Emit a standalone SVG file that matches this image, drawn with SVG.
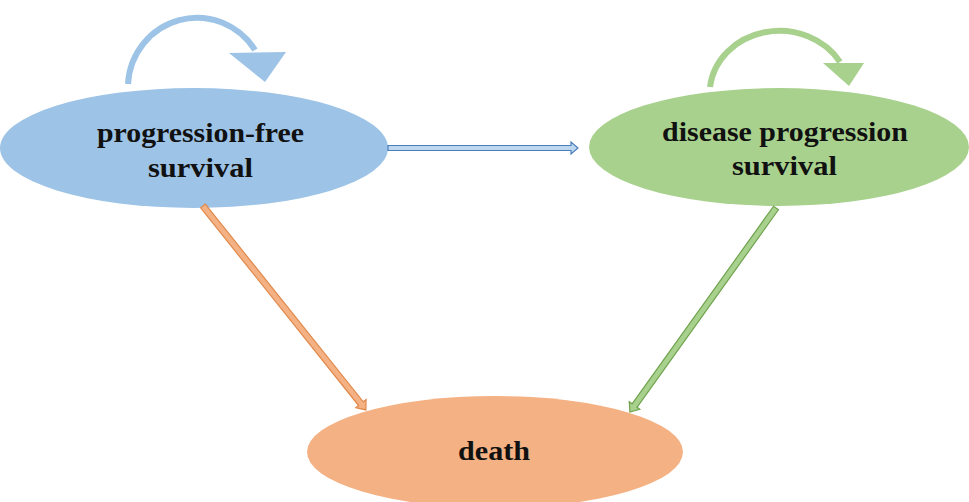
<svg xmlns="http://www.w3.org/2000/svg" width="969" height="502" viewBox="0 0 969 502">
<style>
.lbl{font-family:"Liberation Serif","Times New Roman",serif;font-weight:bold;font-size:28px;fill:#111;text-anchor:middle}
</style>
<rect width="969" height="502" fill="#fff"/>
<g id="node-pfs">
<ellipse cx="194" cy="148" rx="194" ry="60" fill="#9DC3E6"/>
<text class="lbl" x="200.5" y="142" textLength="207" lengthAdjust="spacingAndGlyphs">progression-free</text>
<text class="lbl" x="200.5" y="177" textLength="105" lengthAdjust="spacingAndGlyphs">survival</text>
</g>
<g id="node-dps">
<ellipse cx="779" cy="147" rx="190" ry="59" fill="#A9D18E"/>
<text class="lbl" x="785" y="141" textLength="246" lengthAdjust="spacingAndGlyphs">disease progression</text>
<text class="lbl" x="784.5" y="175" textLength="105" lengthAdjust="spacingAndGlyphs">survival</text>
</g>
<g id="node-death">
<ellipse cx="495" cy="452" rx="188" ry="56" fill="#F4B183"/>
<text class="lbl" x="494" y="460" textLength="72" lengthAdjust="spacingAndGlyphs">death</text>
</g>
<g id="connectors">
<path d="M128 84 A69 70 0 0 1 255 50" fill="none" stroke="#9DC3E6" stroke-width="6"/>
<polygon points="229,53 286,52 265,82" fill="#9DC3E6"/>
<path d="M710 87 A70 63 0 0 1 840 62" fill="none" stroke="#A9D18E" stroke-width="6"/>
<polygon points="823,63 864,63 849,86" fill="#A9D18E"/>
<polygon transform="translate(388,148)" points="0,-2.5 183,-2.5 183,-6 190,0 183,6 183,2.5 0,2.5" fill="#BDD7EE" stroke="#4A7EBB" stroke-width="1.2"/>
<polygon transform="translate(203,206) rotate(51.37)" points="0,-3 253,-3 253,-6.5 261,0 253,6.5 253,3 0,3" fill="#F4B183" stroke="#E0884A" stroke-width="1.2"/>
<polygon transform="translate(776,208) rotate(125.6)" points="0,-3 243,-3 243,-6.5 251,0 243,6.5 243,3 0,3" fill="#A9D18E" stroke="#6FA34E" stroke-width="1.2"/>
</g>
</svg>
